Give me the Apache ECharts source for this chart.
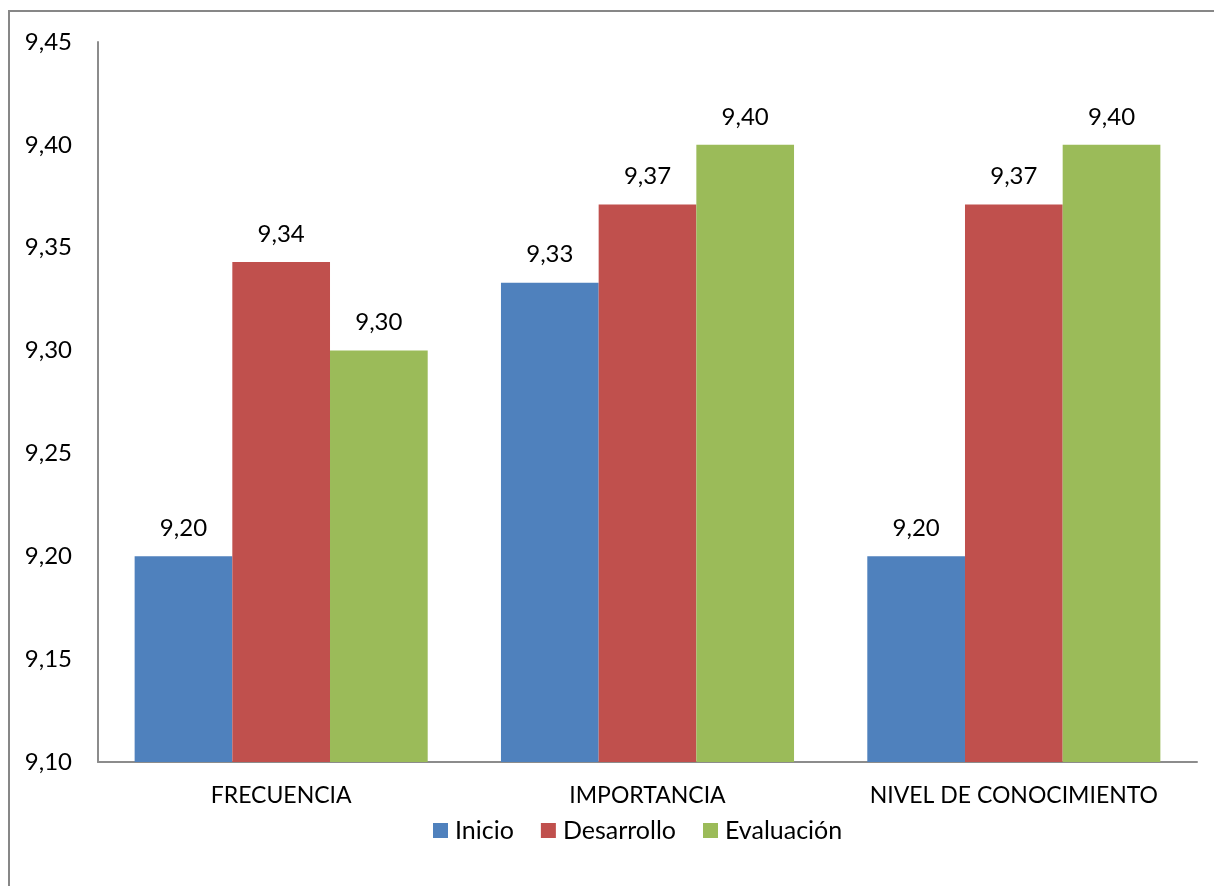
<!DOCTYPE html>
<html>
<head>
<meta charset="utf-8">
<script src="https://cdn.jsdelivr.net/npm/echarts@6/dist/echarts.min.js"></script>
<style>
  html, body { margin: 0; padding: 0; background: #fff; }
  #chart { width: 1214px; height: 886px; }
</style>
</head>
<body>
<div id="chart"></div>
<script>
// Category names along the x axis
const categories = ['FRECUENCIA', 'IMPORTANCIA', 'NIVEL DE CONOCIMIENTO'];
// Series values (mean scores)
const inicio = [9.20, 9.333, 9.20];
const desarrollo = [9.343, 9.371, 9.371];
const evaluacion = [9.30, 9.40, 9.40];
// Value axis range
const yMin = 9.10;
const yMax = 9.45;
const yStep = 0.05;

const FONT = 'Lato, "Open Sans", sans-serif';
const fmt = v => Number(v).toFixed(2).replace('.', ',');

const chart = echarts.init(document.getElementById('chart'), null, { renderer: 'canvas' });

function barSeries(name, data, color) {
  return {
    name: name,
    type: 'bar',
    data: data,
    barGap: 0,
    barCategoryGap: '20%',
    itemStyle: { color: color },
    label: {
      show: true,
      position: 'top',
      distance: 16,
      formatter: p => fmt(p.value),
      fontFamily: FONT,
      fontSize: 24,
      color: '#000'
    }
  };
}

chart.setOption({
  animation: false,
  backgroundColor: '#fff',
  graphic: [{
    type: 'rect',
    shape: { x: 9, y: 11, width: 1240, height: 900 },
    style: { fill: 'none', stroke: '#878787', lineWidth: 2 },
    silent: true,
    z: -10
  }],
  grid: { left: 98, right: 17, top: 42, bottom: 124, containLabel: false },
  legend: {
    bottom: 38,
    left: 428,
    itemWidth: 15,
    itemHeight: 15,
    itemGap: 27,
    icon: 'rect',
    textStyle: { fontFamily: FONT, fontSize: 25, color: '#000', padding: [0, 0, 0, 2] },
    data: ['Inicio', 'Desarrollo', 'Evaluación']
  },
  xAxis: {
    type: 'category',
    data: categories,
    axisLine: { show: true, lineStyle: { color: '#8c8c8c', width: 2 } },
    axisTick: { show: false },
    axisLabel: { interval: 0, hideOverlap: false, fontFamily: FONT, fontSize: 23, color: '#000', margin: 22 }
  },
  yAxis: {
    type: 'value',
    min: yMin,
    max: yMax,
    interval: yStep,
    axisLine: { show: true, lineStyle: { color: '#8c8c8c', width: 2 } },
    axisTick: { show: false },
    splitLine: { show: false },
    axisLabel: {
      fontFamily: FONT, fontSize: 24, color: '#000', margin: 26,
      formatter: v => fmt(v)
    }
  },
  series: [
    barSeries('Inicio', inicio, '#4F81BD'),
    barSeries('Desarrollo', desarrollo, '#C0504D'),
    barSeries('Evaluación', evaluacion, '#9BBB59')
  ]
});
</script>
</body>
</html>
